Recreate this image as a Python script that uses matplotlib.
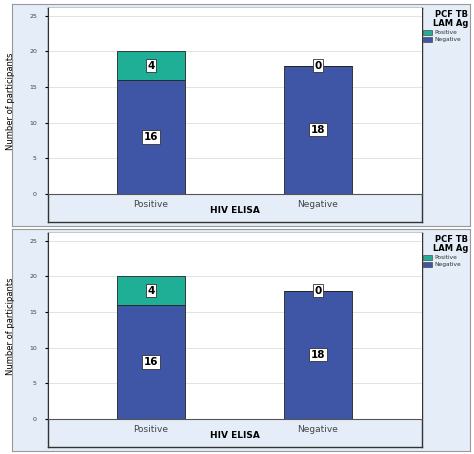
import matplotlib
matplotlib.use('Agg')
import matplotlib.pyplot as plt
from matplotlib.patches import Rectangle

categories = ['Positive', 'Negative']
negative = [16, 18]
positive = [4, 0]
yticks = [0, 5, 10, 15, 20, 25]

W, H = 474, 454
NAVY = '#3f55a6'
TEAL = '#1fae96'
BAND = '#e4edf8'

fig = plt.figure(figsize=(W / 100, H / 100), dpi=100)


def px(x0, y0, x1, y1):
    # pixel box (top-left origin) -> figure fraction rect
    return [x0 / W, 1 - y1 / H, (x1 - x0) / W, (y1 - y0) / H]


def panel(top):
    bg = fig.add_axes(px(12, top, 470, top + 222))
    bg.set_facecolor(BAND)
    bg.set_xticks([]); bg.set_yticks([])
    for s in bg.spines.values():
        s.set_color('#999999')
    inner = fig.add_axes(px(48, top + 4, 422, top + 218))
    inner.set_facecolor(BAND)
    inner.set_xticks([]); inner.set_yticks([])
    for s in inner.spines.values():
        s.set_color('#333333')
        s.set_linewidth(1)
    inner.text(0.5, 0.04, 'HIV ELISA', transform=inner.transAxes, ha='center',
               fontsize=6.5, fontweight='bold')

    ax = fig.add_axes(px(48, top + 4, 422, top + 190))
    ax.set_facecolor('white')
    ax.set_xlim(-0.617, 1.623)
    ax.set_ylim(0, 26.1)
    ax.set_yticks(yticks)
    ax.set_yticklabels([str(t) for t in yticks], fontsize=4.5, color='#444444')
    ax.tick_params(axis='y', length=2, pad=6)
    ax.set_xticks(range(len(categories)))
    ax.set_xticklabels(categories, fontsize=6.5, color='#444444')
    ax.tick_params(axis='x', length=0, pad=4)
    ax.grid(axis='y', color='#dddddd', linewidth=0.6)
    ax.set_axisbelow(True)
    for s in ['top', 'right']:
        ax.spines[s].set_visible(False)
    ax.spines['left'].set_color('#333333')
    ax.spines['bottom'].set_color('#555555')
    ax.set_ylabel('Number of participants', fontsize=6, labelpad=10)

    x = range(len(categories))
    ax.bar(x, negative, width=0.41, color=NAVY, edgecolor='#222222', linewidth=0.6)
    ax.bar(x, positive, width=0.41, bottom=negative, color=TEAL,
           edgecolor='#222222', linewidth=0.6)
    box = dict(boxstyle='square,pad=0.15', fc='white', ec='#333333', lw=0.6)
    for i in x:
        ax.text(i, negative[i] / 2, str(negative[i]), ha='center', va='center',
                fontsize=7.5, fontweight='bold', bbox=box)
        ax.text(i, negative[i] + positive[i] / 2, str(positive[i]), ha='center',
                va='center', fontsize=7.5, fontweight='bold', bbox=box)

    # legend area
    fig.text(468 / W, 1 - (top + 6) / H, 'PCF TB\nLAM Ag', ha='right', va='top',
             fontsize=6, fontweight='bold', linespacing=0.95)
    for j, (lab, col) in enumerate([('Positive', TEAL), ('Negative', NAVY)]):
        yy = top + 28 + j * 7
        fig.add_artist(Rectangle((423 / W, 1 - (yy + 3) / H), 9 / W, 5 / H,
                                 transform=fig.transFigure, fc=col, ec='#333333', lw=0.4))
        fig.text(434 / W, 1 - (yy + 0.5) / H, lab, fontsize=4.2, va='center',
                 color='#333333')


panel(4)
panel(229)

fig.savefig('out.png', dpi=100)
